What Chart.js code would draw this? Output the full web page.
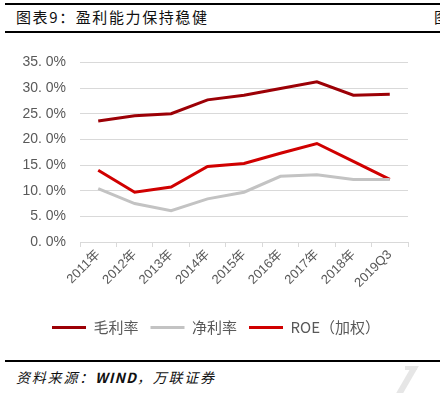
<!DOCTYPE html>
<html><head><meta charset="utf-8">
<script src="https://cdn.jsdelivr.net/npm/chart.js@4"></script>
<style>
html,body{margin:0;padding:0;background:#fff;width:440px;height:393px;overflow:hidden;position:relative;font-family:"Noto Sans CJK SC",sans-serif;}
.rule{position:absolute;left:5px;right:0;height:2px;background:#000;}
#title{position:absolute;left:16px;top:6px;font-size:15px;color:#111;letter-spacing:1.6px;}
#src{position:absolute;left:16px;top:367px;font-size:14px;font-style:italic;color:#111;letter-spacing:1.8px;}
#src b{font-weight:700;letter-spacing:1px;}
#cut{position:absolute;left:434px;top:6px;font-size:15px;color:#111;}
#wm{position:absolute;left:402px;top:366px;width:7px;height:34px;background:#e6e6e6;transform:skewX(-30deg);}
#wm2{position:absolute;left:405px;top:366px;width:12px;height:4px;background:#e6e6e6;}
#wrap{position:absolute;left:0;top:40px;width:440px;height:305px;}
</style></head><body>
<div class="rule" style="top:3px"></div>
<div class="rule" style="top:31px"></div>
<div id="title">图表9：盈利能力保持稳健</div>
<div id="cut">图</div>
<div class="rule" style="top:360px"></div>
<div id="wm"></div><div id="wm2"></div>
<div id="src">资料来源：<b>WIND</b>，万联证券</div>
<div id="wrap"><canvas id="c"></canvas></div>
<script>
const categories = ['2011年','2012年','2013年','2014年','2015年','2016年','2017年','2018年','2019Q3'];
const grossMargin = [23.6, 24.6, 25.0, 27.7, 28.6, 29.9, 31.2, 28.6, 28.8];
const netMargin = [10.4, 7.5, 6.1, 8.4, 9.7, 12.8, 13.1, 12.2, 12.2];
const roe = [14.0, 9.7, 10.7, 14.7, 15.3, 17.3, 19.2, 15.7, 12.2];
const yTicks = [0, 5, 10, 15, 20, 25, 30, 35];

const ds = (label, data, color) => ({label, data, borderColor: color, backgroundColor: color,
  borderWidth: 3, pointRadius: 0, tension: 0, fill: false});

new Chart(document.getElementById('c'), {
  type: 'line',
  data: {labels: categories, datasets: [
    ds('毛利率', grossMargin, '#9c0006'),
    ds('净利率', netMargin, '#c3c3c3'),
    ds('ROE（加权）', roe, '#d00000')
  ]},
  options: {
    responsive: true, maintainAspectRatio: false, animation: false,
    layout: {padding: {left: 0, right: 8, top: 16, bottom: 0}},
    plugins: {
      tooltip: {enabled: false},
      legend: {position: 'bottom', labels: {usePointStyle: true, pointStyle: 'line', pointStyleWidth: 34,
        boxWidth: 34, padding: 12, color: '#595959',
        font: {size: 15, family: '"Noto Sans CJK SC", sans-serif'}},
        onClick: null}
    },
    scales: {
      x: {offset: true,
        grid: {offset: true, drawOnChartArea: false, drawTicks: true, tickLength: 5, color: '#d9d9d9'},
        border: {color: '#d9d9d9'},
        ticks: {minRotation: 45, maxRotation: 45, color: '#595959', padding: 0,
          font: {size: 13, family: '"Liberation Sans", "Noto Sans CJK SC", sans-serif'}},
        afterFit: s => { s.height = 66; }
      },
      y: {min: 0, max: 35,
        afterBuildTicks: s => { s.ticks = yTicks.map(v => ({value: v})); },
        grid: {color: '#d9d9d9', drawTicks: false},
        border: {display: false},
        ticks: {color: '#595959', padding: 14, font: {size: 14, family: '"Liberation Sans", sans-serif'},
          callback: v => v.toFixed(1).replace('.', '. ') + '%'},
        afterFit: s => { s.width = 80; }
      },
      pad: {position: 'right', display: true, min: 0, max: 1,
        grid: {display: false}, border: {display: false}, ticks: {display: false},
        afterFit: s => { s.width = 24; }
      }
    }
  }
});
</script>
</body></html>
